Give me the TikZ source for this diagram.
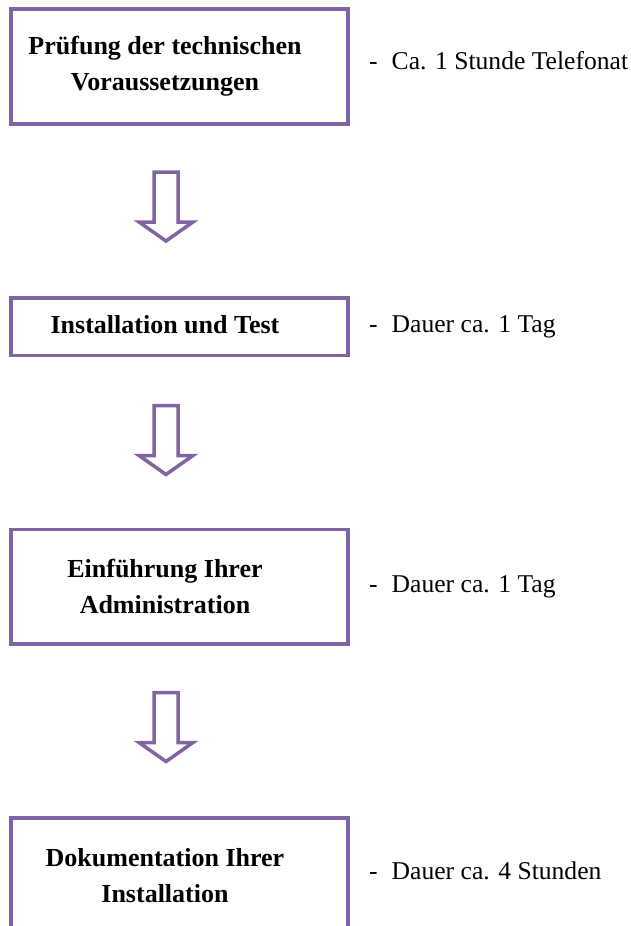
\documentclass[tikz,border=0pt]{standalone}
\usepackage{fontspec}
\setmainfont{Liberation Serif}
\usetikzlibrary{positioning, calc}
\definecolor{stepviolet}{RGB}{128,100,162}
\newcommand{\stepnote}[1]{-\hspace{14bp}#1}

\begin{document}
\begin{tikzpicture}[x=1bp, y=-1bp,
    stepbox/.style={draw=stepviolet, line width=3.5bp, minimum width=337bp, inner sep=0pt},
    steptext/.style={font=\fontsize{26bp}{36bp}\selectfont\bfseries, align=center, inner sep=0pt},
    notetext/.style={font=\fontsize{25.6bp}{30bp}\selectfont, anchor=base west, inner sep=0pt},
    pics/downarrow/.style={code={
        \draw[stepviolet, line width=3.5bp, line join=miter]
            (-12,-34.5) -- (12,-34.5) -- (12,15.5) -- (27,15.5) -- (0,34.5)
            -- (-27,15.5) -- (-12,15.5) -- cycle;}}]
        \useasboundingbox (0,0) rectangle (631,926);
        \clip (0,0) rectangle (631,926);

        % the four steps
        \node[stepbox, minimum height=115bp] (b1) at (179.5,66.5) {};
        \node[stepbox, minimum height=57.5bp] (b2) at (179.5,326.75) {};
        \node[stepbox, minimum height=114.5bp] (b3) at (179.5,586.75) {};
        \node[stepbox, minimum height=115bp] (b4) at (179.5,875.5) {};

        \node[steptext] (t1) at ($(b1.center)+(-14.5,0)$) {Prüfung der technischen\\Voraussetzungen};
        \node[steptext] (t2) at ($(b2.center)+(-14.5,-2)$) {Installation und Test};
        \node[steptext] (t3) at ($(b3.center)+(-14.5,0)$) {Einführung Ihrer\\Administration};
        \node[steptext] (t4) at ($(b4.center)+(-14.5,0)$) {Dokumentation Ihrer\\Installation};

        % durations
        \node[notetext] (n1) at (369,69) {\stepnote{Ca. 1 Stunde Telefonat}};
        \node[notetext] (n2) at (369,332) {\stepnote{Dauer ca. 1 Tag}};
        \node[notetext] (n3) at (369,592) {\stepnote{Dauer ca. 1 Tag}};
        \node[notetext] (n4) at (369,879) {\stepnote{Dauer ca. 4 Stunden}};

        % arrows between the steps
        \coordinate (a1) at ($(b1.south)!0.5!(b2.north)+(-13.5,-4.5)$);
        \coordinate (a2) at ($(b2.south)!0.5!(b3.north)+(-13.5,-2.5)$);
        \coordinate (a3) at ($(b3.south)!0.5!(b4.north)+(-13.5,-4)$);
        \pic at (a1) {downarrow};
        \pic at (a2) {downarrow};
        \pic at (a3) {downarrow};
    \end{tikzpicture}
\end{document}
